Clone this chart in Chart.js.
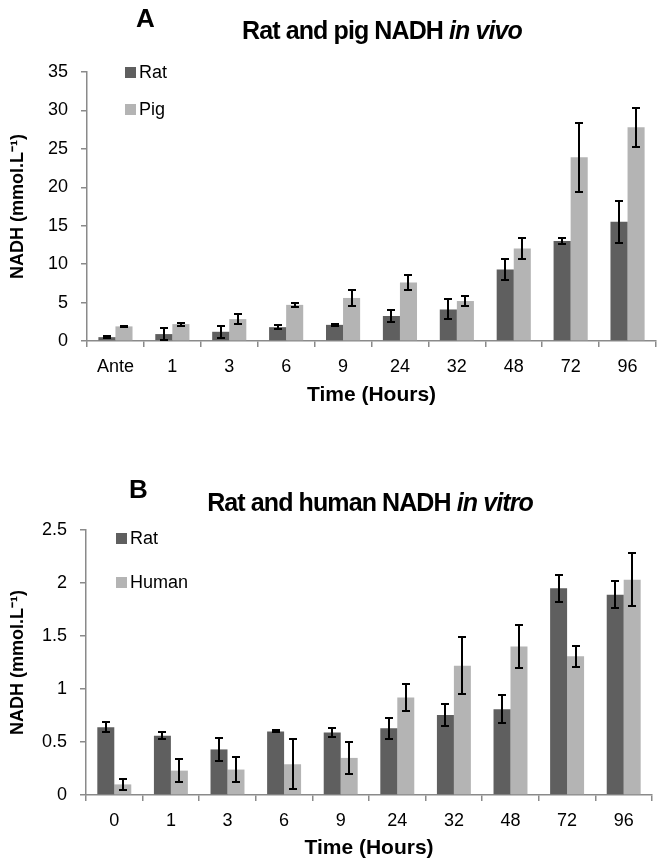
<!DOCTYPE html>
<html lang="en">
<head>
<meta charset="UTF-8">
<title>NADH in vivo / in vitro</title>
<script src="https://cdn.jsdelivr.net/npm/chart.js@4.4.1/dist/chart.umd.min.js"></script>
<style>
    body { margin: 0; background: #fff; font-family: "Liberation Sans", Arial, sans-serif; }
    .panel { position: absolute; left: 0; width: 663px; }
    .panel canvas { position: absolute; left: 0; top: 0; }
    .letter { position: absolute; font-weight: bold; font-size: 26px; }
    .title { position: absolute; font-weight: bold; font-size: 25px; letter-spacing: -0.9px; white-space: nowrap; transform: translateX(-50%); }
    .legend { position: absolute; font-size: 18px; }
    .legend div { position: relative; height: 20px; line-height: 20px; white-space: nowrap; }
    .legend span { display: inline-block; width: 11px; height: 11px; margin-right: 3px; vertical-align: 0px; }
</style>
</head>
<body>

<div class="panel" id="panelA" style="top:0; height:410px;">
    <canvas id="chartA"></canvas>
    <div class="letter" style="left:136px; top:3px;">A</div>
    <div class="title" style="left:382px; top:16px;">Rat and pig NADH <i>in vivo</i></div>
    <div class="legend" id="legendA" style="left:125px; top:62px;"></div>
</div>

<div class="panel" id="panelB" style="top:440px; height:423px;">
    <canvas id="chartB"></canvas>
    <div class="letter" style="left:129px; top:34px;">B</div>
    <div class="title" style="left:370px; top:48px;">Rat and human NADH <i>in vitro</i></div>
    <div class="legend" id="legendB" style="left:116px; top:88px;"></div>
</div>

<script>
    // panel A - in vivo
    const timesA = ['Ante', '1', '3', '6', '9', '24', '32', '48', '72', '96'];
    const ratA = [0.5, 0.9, 1.2, 1.8, 2.1, 3.25, 4.1, 9.3, 13.0, 15.5];
    const ratAErr = [0.1, 0.75, 0.75, 0.3, 0.1, 0.75, 1.3, 1.35, 0.4, 2.7];
    const pigA = [1.9, 2.2, 2.85, 4.7, 5.6, 7.6, 5.2, 12.05, 23.9, 27.8];
    const pigAErr = [0.1, 0.2, 0.65, 0.3, 1.0, 0.95, 0.6, 1.4, 4.5, 2.5];

    // panel B - in vitro
    const timesB = ['0', '1', '3', '6', '9', '24', '32', '48', '72', '96'];
    const ratB = [0.64, 0.56, 0.43, 0.6, 0.59, 0.63, 0.755, 0.81, 1.95, 1.89];
    const ratBErr = [0.045, 0.03, 0.105, 0.01, 0.04, 0.1, 0.1, 0.13, 0.125, 0.125];
    const humanB = [0.1, 0.23, 0.24, 0.29, 0.35, 0.92, 1.22, 1.4, 1.31, 2.03];
    const humanBErr = [0.055, 0.11, 0.12, 0.235, 0.15, 0.125, 0.27, 0.2, 0.1, 0.25];

    const darkGrey = '#5f5f5f';
    const lightGrey = '#b4b4b4';
    const axisGrey = '#8a8a8a';

    // error bars drawn from the y scale
    const errorBars = {
        id: 'errorBars',
        afterDatasetsDraw(chart) {
            const ctx = chart.ctx;
            const y = chart.scales.y;
            ctx.save();
            ctx.strokeStyle = '#000';
            ctx.lineWidth = 2;
            chart.data.datasets.forEach((ds, i) => {
                const meta = chart.getDatasetMeta(i);
                meta.data.forEach((bar, j) => {
                    const v = ds.data[j], e = ds.errors[j];
                    const top = Math.round(y.getPixelForValue(v + e));
                    const bot = Math.round(y.getPixelForValue(v - e));
                    const x = Math.round(bar.x);
                    ctx.beginPath();
                    ctx.moveTo(x, top); ctx.lineTo(x, bot);
                    ctx.moveTo(x - 4, top); ctx.lineTo(x + 4, top);
                    ctx.moveTo(x - 4, bot); ctx.lineTo(x + 4, bot);
                    ctx.stroke();
                });
            });
            ctx.restore();
        }
    };

    function makeLegend(id, names) {
        const el = document.getElementById(id);
        names.forEach(n => {
            const d = document.createElement('div');
            d.style.marginBottom = n.gap + 'px';
            d.innerHTML = '<span style="background:' + n.color + '"></span>' + n.label;
            el.appendChild(d);
        });
    }

    function makeChart(id, labels, sets, cfg) {
        const canvas = document.getElementById(id);
        canvas.width = 663;
        canvas.height = cfg.height;
        return new Chart(canvas, {
            type: 'bar',
            data: {
                labels: labels,
                datasets: sets.map(s => ({
                    label: s.label,
                    data: s.data,
                    errors: s.errors,
                    backgroundColor: s.color,
                    borderWidth: 0,
                    categoryPercentage: 0.6,
                    barPercentage: 1.0
                }))
            },
            options: {
                responsive: false,
                animation: false,
                layout: { padding: { top: cfg.top, right: cfg.right, left: 0, bottom: 0 } },
                plugins: { legend: { display: false }, tooltip: { enabled: false } },
                scales: {
                    x: {
                        afterFit: s => { s.height = cfg.xHeight; },
                        grid: { drawOnChartArea: false, color: axisGrey, tickLength: 6, lineWidth: 1.5 },
                        border: { color: axisGrey, width: 1.5 },
                        ticks: { color: '#000', padding: 9, font: { family: 'Liberation Sans', size: 18 } },
                        title: {
                            display: true, text: 'Time (Hours)', color: '#000',
                            padding: { top: 0, bottom: 2 },
                            font: { family: 'Liberation Sans', size: 21, weight: 'bold' }
                        }
                    },
                    y: {
                        min: 0, max: cfg.max,
                        afterFit: s => { s.width = cfg.left; },
                        grid: { drawOnChartArea: false, color: axisGrey, tickLength: 6, lineWidth: 1.5 },
                        border: { color: axisGrey, width: 1.5 },
                        ticks: {
                            stepSize: cfg.step, color: '#000', padding: 13,
                            font: { family: 'Liberation Sans', size: 18 },
                            callback: v => String(Math.round(v * 10) / 10)
                        },
                        title: {
                            display: true, text: 'NADH (mmol.L⁻¹)', color: '#000',
                            padding: { top: 7, bottom: 0 },
                            font: { family: 'Liberation Sans', size: 18, weight: 'bold' }
                        }
                    }
                }
            },
            plugins: [errorBars]
        });
    }

    makeChart('chartA', timesA, [
        { label: 'Rat', data: ratA, errors: ratAErr, color: darkGrey },
        { label: 'Pig', data: pigA, errors: pigAErr, color: lightGrey }
    ], { height: 410, top: 72, right: 7, left: 87, xHeight: 69, max: 35, step: 5 });

    makeChart('chartB', timesB, [
        { label: 'Rat', data: ratB, errors: ratBErr, color: darkGrey },
        { label: 'Human', data: humanB, errors: humanBErr, color: lightGrey }
    ], { height: 423, top: 90, right: 11, left: 86, xHeight: 68, max: 2.5, step: 0.5 });

    makeLegend('legendA', [
        { label: 'Rat', color: darkGrey, gap: 17 },
        { label: 'Pig', color: lightGrey, gap: 0 }
    ]);
    makeLegend('legendB', [
        { label: 'Rat', color: darkGrey, gap: 24 },
        { label: 'Human', color: lightGrey, gap: 0 }
    ]);
</script>
</body>
</html>
